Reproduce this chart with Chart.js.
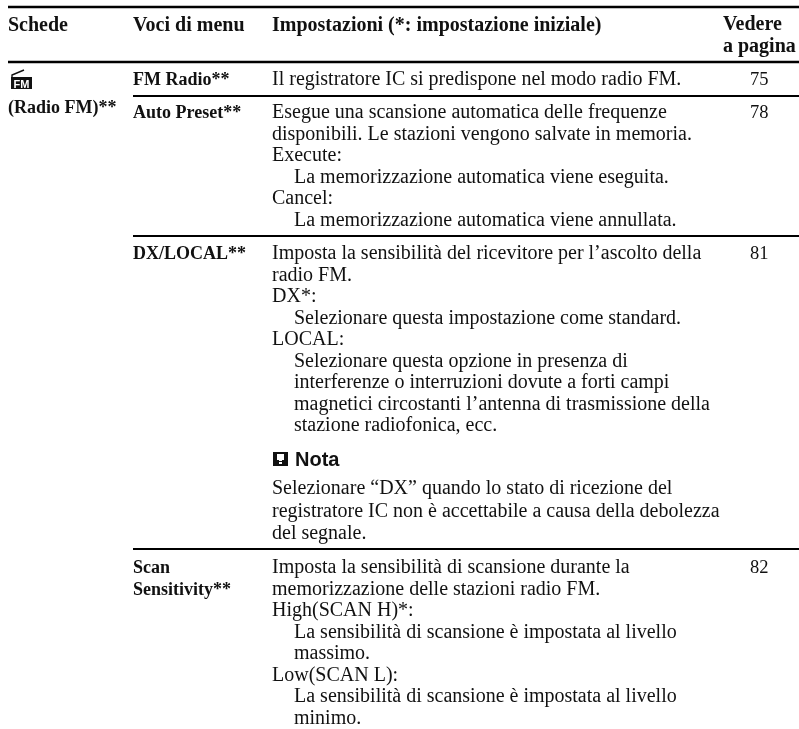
<!DOCTYPE html>
<html>
<head>
<meta charset="utf-8">
<script src="https://cdn.jsdelivr.net/npm/chart.js@4"></script>
<style>
  html, body { margin: 0; padding: 0; background: #fff; }
  #box { width: 799px; height: 729px; }
</style>
</head>
<body>
<div id="box"><canvas id="c" width="799" height="729"></canvas></div>
<script>
// table content
const columnHeaders = ["Schede", "Voci di menu", "Impostazioni (*: impostazione iniziale)"];
const pageHeader = ["Vedere", "a pagina"];
const tabName = "(Radio FM)**";
const menuItems = [["FM Radio**"], ["Auto Preset**"], ["DX/LOCAL**"], ["Scan", "Sensitivity**"]];
const pageNumbers = ["75", "78", "81", "82"];
// leading tab = indented line
const settingsRows = [
  ["Il registratore IC si predispone nel modo radio FM."],
  ["Esegue una scansione automatica delle frequenze",
   "disponibili. Le stazioni vengono salvate in memoria.",
   "Execute:",
   "\tLa memorizzazione automatica viene eseguita.",
   "Cancel:",
   "\tLa memorizzazione automatica viene annullata."],
  ["Imposta la sensibilità del ricevitore per l’ascolto della",
   "radio FM.",
   "DX*:",
   "\tSelezionare questa impostazione come standard.",
   "LOCAL:",
   "\tSelezionare questa opzione in presenza di",
   "\tinterferenze o interruzioni dovute a forti campi",
   "\tmagnetici circostanti l’antenna di trasmissione della",
   "\tstazione radiofonica, ecc."],
  ["Imposta la sensibilità di scansione durante la",
   "memorizzazione delle stazioni radio FM.",
   "High(SCAN H)*:",
   "\tLa sensibilità di scansione è impostata al livello",
   "\tmassimo.",
   "Low(SCAN L):",
   "\tLa sensibilità di scansione è impostata al livello",
   "\tminimo."]
];
const noteTitle = "Nota";
const noteLines = [
  "Selezionare “DX” quando lo stato di ricezione del",
  "registratore IC non è accettabile a causa della debolezza",
  "del segnale."
];

// layout, in page pixels
const colX = [8, 133, 272, 723];
const pageX = 750, indentX = 294, lineStep = 21.5;
const rowBaselines = [85, 118, 259, 573];
const noteBaseline = 494;
const heavyRules = [7, 62];
const rowRules = [96, 236, 549];

function ruleDataset(ys, startX, width) {
  const pts = [];
  ys.forEach(y => pts.push({ x: startX, y }, { x: 799, y }, { x: null, y: null }));
  return { data: pts, borderColor: "#000", borderWidth: width, pointRadius: 0, showLine: true, spanGaps: false };
}

const tableText = {
  id: "tableText",
  afterDatasetsDraw(chart) {
    const { ctx, scales: { x, y } } = chart;
    const put = (s, px, py) => ctx.fillText(s, x.getPixelForValue(px), y.getPixelForValue(Math.round(py)));
    const serif = "'Liberation Serif'";
    const putSetting = (s, py) => {
      if (s[0] === "\t") put(s.slice(1), indentX, py);
      else put(s, colX[2], py);
    };
    ctx.save();
    ctx.fillStyle = "#111";
    ctx.textBaseline = "alphabetic";

    ctx.font = "bold 20px " + serif;
    columnHeaders.forEach((s, i) => put(s, colX[i], 31));
    pageHeader.forEach((s, i) => put(s, colX[3], 30 + i * 22));

    ctx.font = "bold 18px " + serif;
    put(tabName, colX[0], 113);
    menuItems.forEach((lines, r) => lines.forEach((s, i) => put(s, colX[1], rowBaselines[r] + i * lineStep)));

    ctx.font = "20px " + serif;
    settingsRows.forEach((lines, r) => lines.forEach((s, i) => putSetting(s, rowBaselines[r] + i * lineStep)));
    noteLines.forEach((s, i) => putSetting(s, noteBaseline + i * 22.5));

    ctx.font = "18.5px " + serif;
    pageNumbers.forEach((s, r) => put(s, pageX, rowBaselines[r]));

    ctx.font = "bold 20px 'Liberation Sans'";
    put(noteTitle, 295, 466);

    // FM tab icon
    const ix = x.getPixelForValue(11), iy = y.getPixelForValue(77);
    ctx.fillRect(ix, iy, 21, 12);
    ctx.fillStyle = "#fff";
    ctx.font = "bold 11px 'Liberation Sans'";
    ctx.fillText("FM", ix + 2.5, iy + 10.5);
    ctx.strokeStyle = "#111";
    ctx.lineWidth = 1.4;
    ctx.beginPath();
    ctx.moveTo(ix + 1, iy);
    ctx.lineTo(ix + 1, iy - 2);
    ctx.lineTo(ix + 13, iy - 7);
    ctx.stroke();

    // note icon
    const nx = x.getPixelForValue(273), ny = y.getPixelForValue(452);
    ctx.fillStyle = "#111";
    ctx.fillRect(nx, ny, 15, 14);
    ctx.fillStyle = "#fff";
    ctx.fillRect(nx + 4, ny + 2, 7, 6);
    ctx.fillRect(nx + 6, ny + 8, 3, 1);
    ctx.fillRect(nx + 6, ny + 10, 3, 2);
    ctx.restore();
  }
};

new Chart(document.getElementById("c"), {
  type: "scatter",
  data: { datasets: [ruleDataset(heavyRules, colX[0], 2.4), ruleDataset(rowRules, colX[1], 2)] },
  options: {
    responsive: false,
    animation: false,
    layout: { padding: 0 },
    plugins: { legend: { display: false }, tooltip: { enabled: false }, title: { display: false } },
    scales: {
      x: { type: "linear", display: false, min: 0, max: 799 },
      y: { type: "linear", display: false, min: 0, max: 729, reverse: true }
    }
  },
  plugins: [tableText]
});
</script>
</body>
</html>
